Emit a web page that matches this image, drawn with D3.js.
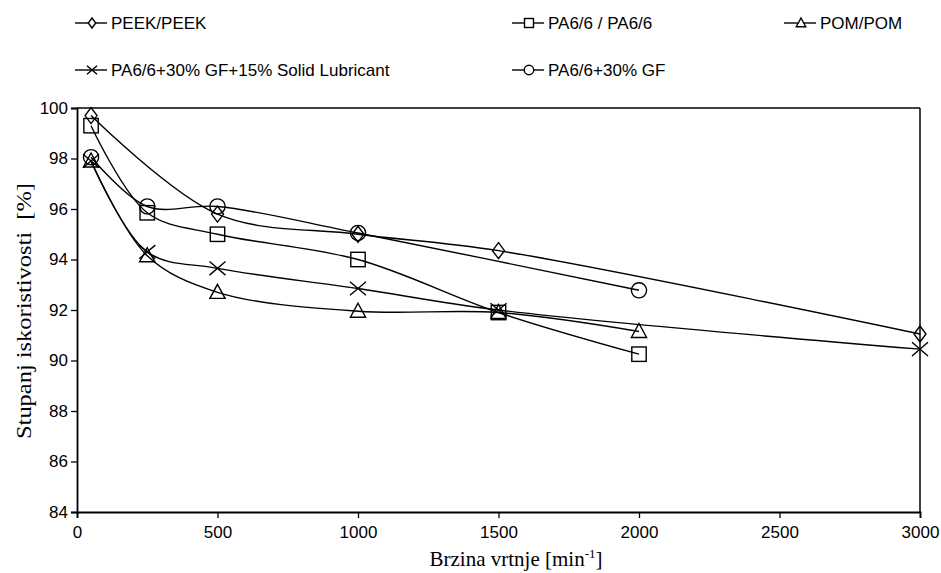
<!DOCTYPE html>
<html>
<head>
<meta charset="utf-8">
<script src="https://cdn.jsdelivr.net/npm/d3@7"></script>
<style>
  body { margin: 0; background: #fff; }
  svg text { fill: #000; }
</style>
</head>
<body>
<svg id="chart" width="941" height="573"></svg>
<script>
// speeds [min^-1] and efficiency values [%]
var peekX = [50, 500, 1000, 1500, 3000];
var peekY = [99.7, 95.8, 95.0, 94.35, 91.05];

var pa66X = [50, 250, 500, 1000, 1500, 2000];
var pa66Y = [99.3, 95.85, 95.0, 94.0, 91.9, 90.25];

var pomX = [50, 250, 500, 1000, 1500, 2000];
var pomY = [97.9, 94.15, 92.7, 91.95, 91.9, 91.15];

var lubX = [50, 250, 500, 1000, 1500, 3000];
var lubY = [97.9, 94.3, 93.65, 92.85, 92.0, 90.45];

var gfX = [50, 250, 500, 1000, 2000];
var gfY = [98.05, 96.1, 96.1, 95.05, 92.78];

var xTicks = [0, 500, 1000, 1500, 2000, 2500, 3000];
var yTicks = [84, 86, 88, 90, 92, 94, 96, 98, 100];

var series = [
  {name: "PEEK/PEEK", xs: peekX, ys: peekY, mark: "diamond"},
  {name: "PA6/6 / PA6/6", xs: pa66X, ys: pa66Y, mark: "square"},
  {name: "POM/POM", xs: pomX, ys: pomY, mark: "triangle"},
  {name: "PA6/6+30% GF+15% Solid Lubricant", xs: lubX, ys: lubY, mark: "cross"},
  {name: "PA6/6+30% GF", xs: gfX, ys: gfY, mark: "circle"}
];

// legend slots (column x, row y)
var legendPos = [[92, 23], [529, 23], [801, 23], [92, 70], [529, 70]];

var svg = d3.select("#chart"),
    margin = {top: 108, right: 21, bottom: 61, left: 77},
    width = +svg.attr("width") - margin.left - margin.right,
    height = +svg.attr("height") - margin.top - margin.bottom,
    g = svg.append("g").attr("transform", "translate(" + margin.left + "," + margin.top + ")");

var x = d3.scaleLinear().domain([0, 3000]).range([0, width]);
var y = d3.scaleLinear().domain([84, 100]).range([height, 0]);

// frame top and right
g.append("line").attr("x1", 0).attr("x2", width).attr("y1", 0).attr("y2", 0)
  .attr("stroke", "#000").attr("stroke-width", 1.5);
g.append("line").attr("x1", width).attr("x2", width).attr("y1", 0).attr("y2", height)
  .attr("stroke", "#000").attr("stroke-width", 1.5);

var xAxis = g.append("g")
  .attr("transform", "translate(0," + height + ")")
  .call(d3.axisBottom(x).tickValues(xTicks).tickSize(6).tickPadding(8).tickFormat(d3.format("d")));
var yAxis = g.append("g")
  .call(d3.axisLeft(y).tickValues(yTicks).tickSize(6).tickPadding(3).tickFormat(d3.format("d")));

[xAxis, yAxis].forEach(function(a){
  a.select(".domain").attr("stroke", "#000").attr("stroke-width", 1.8);
  a.selectAll(".tick line").attr("stroke", "#000").attr("stroke-width", 1.3);
  a.selectAll("text").attr("font-family", "Liberation Sans, Arial, sans-serif")
    .attr("font-size", 17).attr("fill", "#000");
});

// axis titles
svg.append("text")
  .attr("transform", "translate(31,311) rotate(-90)")
  .attr("text-anchor", "middle")
  .attr("font-family", "Liberation Serif, Times New Roman, serif")
  .attr("font-size", 21)
  .attr("textLength", 256)
  .attr("lengthAdjust", "spacingAndGlyphs")
  .text("Stupanj iskoristivosti\u00a0 [%]");

var xt = svg.append("text")
  .attr("x", 516).attr("y", 566)
  .attr("text-anchor", "middle")
  .attr("font-family", "Liberation Serif, Times New Roman, serif")
  .attr("font-size", 21);
xt.append("tspan").text("Brzina vrtnje [min");
xt.append("tspan").attr("dy", -8).attr("font-size", 13).text("-1");
xt.append("tspan").attr("dy", 8).text("]");

function drawMarker(sel, type, s) {
  var st = {fill: "none", stroke: "#000", "stroke-width": 1.4};
  var m;
  if (type == "diamond") {
    m = sel.append("path").attr("d", "M0," + (-s) + "L" + (s * 0.75) + ",0L0," + s + "L" + (-s * 0.75) + ",0Z");
  } else if (type == "square") {
    m = sel.append("rect").attr("x", -s * 0.9).attr("y", -s * 0.9).attr("width", s * 1.8).attr("height", s * 1.8);
  } else if (type == "triangle") {
    m = sel.append("path").attr("d", "M0," + (-s) + "L" + (s * 0.95) + "," + (s * 0.75) + "L" + (-s * 0.95) + "," + (s * 0.75) + "Z");
  } else if (type == "cross") {
    m = sel.append("path").attr("d", "M" + (-s) + "," + (-s * 0.85) + "L" + s + "," + (s * 0.85) + "M" + (-s) + "," + (s * 0.85) + "L" + s + "," + (-s * 0.85));
  } else {
    m = sel.append("circle").attr("r", s * 0.95);
  }
  for (var k in st) m.attr(k, st[k]);
}

var line = d3.line()
  .x(function(d) { return x(d[0]); })
  .y(function(d) { return y(d[1]); })
  .curve(d3.curveCatmullRom.alpha(0.5));

series.forEach(function(s, i){
  var pts = s.xs.map(function(v, j){ return [v, s.ys[j]]; });
  g.append("path").datum(pts)
    .attr("d", line)
    .attr("fill", "none")
    .attr("stroke", "#000")
    .attr("stroke-width", 1.4);

  pts.forEach(function(p){
    var mg = g.append("g").attr("transform", "translate(" + x(p[0]) + "," + y(p[1]) + ")");
    drawMarker(mg, s.mark, 8);
  });

  // legend entry
  var lp = legendPos[i];
  var lg = svg.append("g").attr("transform", "translate(" + lp[0] + "," + lp[1] + ")");
  lg.append("line").attr("x1", -17).attr("x2", 15).attr("y1", 0).attr("y2", 0)
    .attr("stroke", "#000").attr("stroke-width", 1.4);
  var mk = lg.append("g");
  drawMarker(mk, s.mark, 5);
  mk.selectAll("*").attr("fill", "#fff");
  lg.append("text").attr("x", 19).attr("y", 6)
    .attr("font-family", "Liberation Sans, Arial, sans-serif")
    .attr("font-size", 17)
    .text(s.name);
});
</script>
</body>
</html>
